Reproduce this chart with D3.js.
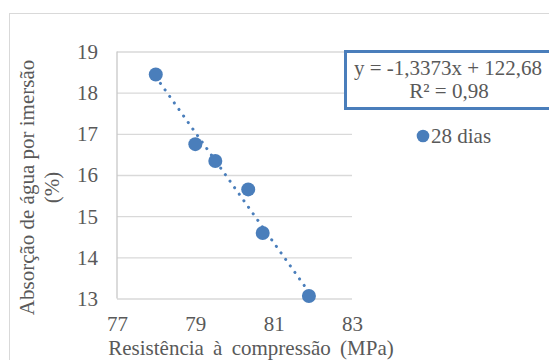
<!DOCTYPE html>
<html>
<head>
<meta charset="utf-8">
<script src="https://cdn.jsdelivr.net/npm/d3@7"></script>
</head>
<body style="margin:0; background:#fff">
<svg id="chart" width="549" height="360"></svg>
<script>
/* data */
const resistencia = [77.99, 79.0, 79.51, 80.35, 80.72, 81.9]
const absorcao = [18.44, 16.75, 16.34, 15.65, 14.59, 13.06]
const xTicks = [77, 79, 81, 83]
const yTicks = [13, 14, 15, 16, 17, 18, 19]
const slope = -1.3373
const intercept = 122.68
const eqLabel = 'y = -1,3373x + 122,68'
const r2Label = 'R² = 0,98'
const seriesName = '28 dias'

/* layout */
const margin = { top: 51.5, left: 117, right: 197, bottom: 61.5 }
const width = 549 - margin.left - margin.right
const height = 360 - margin.top - margin.bottom
const blue = '#4a7ebb'
const textCol = '#595959'
const fontSize = 21
const serif = 'Liberation Serif'

const svg = d3.select('#chart')

/* fn: serif text look, set on each text element */
function serifText(sel) {
  sel.attr('font-family', serif).attr('font-size', fontSize).attr('fill', textCol)
}

/* outer chart border */
svg.append('rect')
  .attr('x', 9.5).attr('y', 13.5)
  .attr('width', 600).attr('height', 400)
  .attr('fill', 'none').attr('stroke', '#d9d9d9')

const xScale = d3.scaleLinear().domain([77, 83]).range([0, width])
const yScale = d3.scaleLinear().domain([13, 19]).range([height, 0])

const g = svg.append('g').attr('transform', `translate(${margin.left}, ${margin.top})`)

/* horizontal gridlines + y tick labels */
const yAxis = d3.axisLeft(yScale)
  .tickValues(yTicks)
  .tickFormat(d3.format('d'))
  .tickSize(-width)
  .tickPadding(19)
g.append('g')
  .call(yAxis)
  .call((a) => a.select('.domain').remove())
  .call((a) => a.selectAll('.tick line').attr('stroke', '#d9d9d9').attr('stroke-width', 1.3))
  .call((a) => a.selectAll('.tick text').call(serifText).attr('dy', '0.33em'))

/* vertical axis line */
g.append('line')
  .attr('x1', 0).attr('x2', 0)
  .attr('y1', 0).attr('y2', height)
  .attr('stroke', '#c8c8c8').attr('stroke-width', 1.3)

/* x tick labels */
const xAxis = d3.axisBottom(xScale)
  .tickValues(xTicks)
  .tickFormat(d3.format('d'))
  .tickSize(0)
  .tickPadding(18)
g.append('g')
  .attr('transform', `translate(0, ${height})`)
  .call(xAxis)
  .call((a) => a.select('.domain').remove())
  .call((a) => a.selectAll('.tick text').call(serifText).attr('dy', '0.71em'))

/* linear trendline (dotted) */
const xMin = d3.min(resistencia)
const xMax = d3.max(resistencia)
g.append('line')
  .attr('x1', xScale(xMin)).attr('y1', yScale(slope * xMin + intercept))
  .attr('x2', xScale(xMax)).attr('y2', yScale(slope * xMax + intercept))
  .attr('stroke', blue).attr('stroke-width', 3)
  .attr('stroke-linecap', 'round')
  .attr('stroke-dasharray', '0.1 7.9')

/* points */
g.selectAll('circle.pt')
  .data(resistencia.map((x, i) => ({ x, y: absorcao[i] })))
  .join('circle')
  .attr('class', 'pt')
  .attr('cx', (d) => xScale(d.x))
  .attr('cy', (d) => yScale(d.y))
  .attr('r', 7)
  .attr('fill', blue)

/* axis titles */
svg.append('text')
  .call(serifText)
  .attr('x', 251).attr('y', 355)
  .attr('text-anchor', 'middle')
  .attr('word-spacing', 4)
  .text('Resistência à compressão (MPa)')

svg.append('text')
  .call(serifText)
  .attr('transform', 'translate(34, 187.5) rotate(-90)')
  .attr('text-anchor', 'middle')
  .text('Absorção de água por imersão')
svg.append('text')
  .call(serifText)
  .attr('transform', 'translate(59, 187.5) rotate(-90)')
  .attr('text-anchor', 'middle')
  .text('(%)')

/* trendline equation box */
svg.append('rect')
  .attr('x', 345.5).attr('y', 51.5)
  .attr('width', 260).attr('height', 57)
  .attr('fill', '#fff').attr('stroke', blue).attr('stroke-width', 3)
svg.append('text')
  .call(serifText)
  .attr('x', 448).attr('y', 75)
  .attr('text-anchor', 'middle')
  .text(eqLabel)
svg.append('text')
  .call(serifText)
  .attr('x', 449).attr('y', 98)
  .attr('text-anchor', 'middle')
  .text(r2Label)

/* legend */
svg.append('circle')
  .attr('cx', 423).attr('cy', 136)
  .attr('r', 6.3).attr('fill', blue)
svg.append('text')
  .call(serifText)
  .attr('x', 431).attr('y', 142.5)
  .text(seriesName)
</script>
</body>
</html>
